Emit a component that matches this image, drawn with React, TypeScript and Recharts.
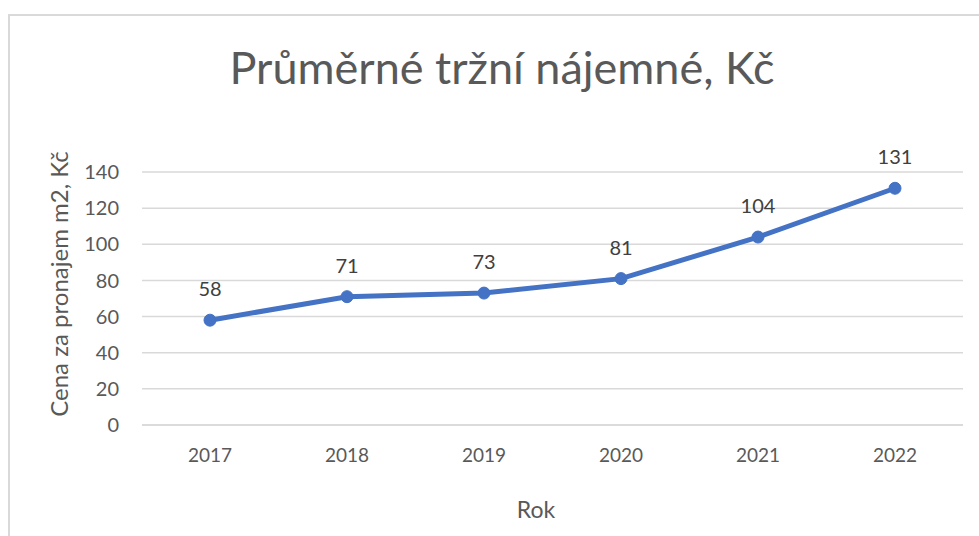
import React from 'react';
import { LineChart, Line, XAxis, YAxis, CartesianGrid, LabelList, Label } from 'recharts';

const years = ['2017', '2018', '2019', '2020', '2021', '2022'];
const rent = [58, 71, 73, 81, 104, 131];
const yTicks = [0, 20, 40, 60, 80, 100, 120, 140];

const title = 'Průměrné tržní nájemné, Kč';
const yTitle = 'Cena za pronajem m2, Kč';
const xTitle = 'Rok';

const data = years.map((y, i) => ({ year: y, value: rent[i] }));

const FONT = 'Lato, "Open Sans", sans-serif';
const GRAY = '#595959';

export default function App() {
  return (
    <div style={{ position: 'absolute', left: 0, top: 0, width: 979, height: 536, overflow: 'hidden', background: '#fff' }}>
      <div style={{ position: 'absolute', left: 8, top: 14, width: 1100, height: 700, border: '2px solid #D9D9D9', boxSizing: 'border-box' }} />
      <div style={{ position: 'absolute', left: 0, top: 0 }}>
        <LineChart width={979} height={536} data={data} margin={{ top: 172, right: 16, bottom: 0, left: 0 }}>
          <text x={502} y={84} textAnchor="middle" fill={GRAY} fontFamily={FONT} fontSize={45}>{title}</text>
          <CartesianGrid vertical={false} stroke="#D9D9D9" strokeWidth={1.5} />
          <XAxis
            dataKey="year"
            type="category"
            padding={{ left: 68, right: 68 }}
            axisLine={{ stroke: '#D9D9D9', strokeWidth: 1.5 }}
            tickLine={false}
            tickMargin={18}
            tick={{ fill: GRAY, fontFamily: FONT, fontSize: 19 }}
            height={111}
          >
            <Label
              content={() => (
                <text x={536} y={518} textAnchor="middle" fill={GRAY} fontFamily={FONT} fontSize={23}>{xTitle}</text>
              )}
            />
          </XAxis>
          <YAxis
            type="number"
            domain={[0, 140]}
            ticks={yTicks}
            interval={0}
            axisLine={false}
            tickLine={false}
            tickMargin={17}
            width={142}
            tick={{ fill: GRAY, fontFamily: FONT, fontSize: 20 }}
          >
            <Label
              content={() => (
                <text x={68} y={284} transform="rotate(-90 68 284)" textAnchor="middle" fill={GRAY} fontFamily={FONT} fontSize={24}>{yTitle}</text>
              )}
            />
          </YAxis>
          <Line
            dataKey="value"
            stroke="#4472C4"
            strokeWidth={5}
            dot={{ r: 6, fill: '#4472C4', stroke: '#4472C4', strokeWidth: 1 }}
            isAnimationActive={false}
          >
            <LabelList dataKey="value" position="top" offset={24} fill="#404040" fontFamily={FONT} fontSize={20} />
          </Line>
        </LineChart>
      </div>
    </div>
  );
}
